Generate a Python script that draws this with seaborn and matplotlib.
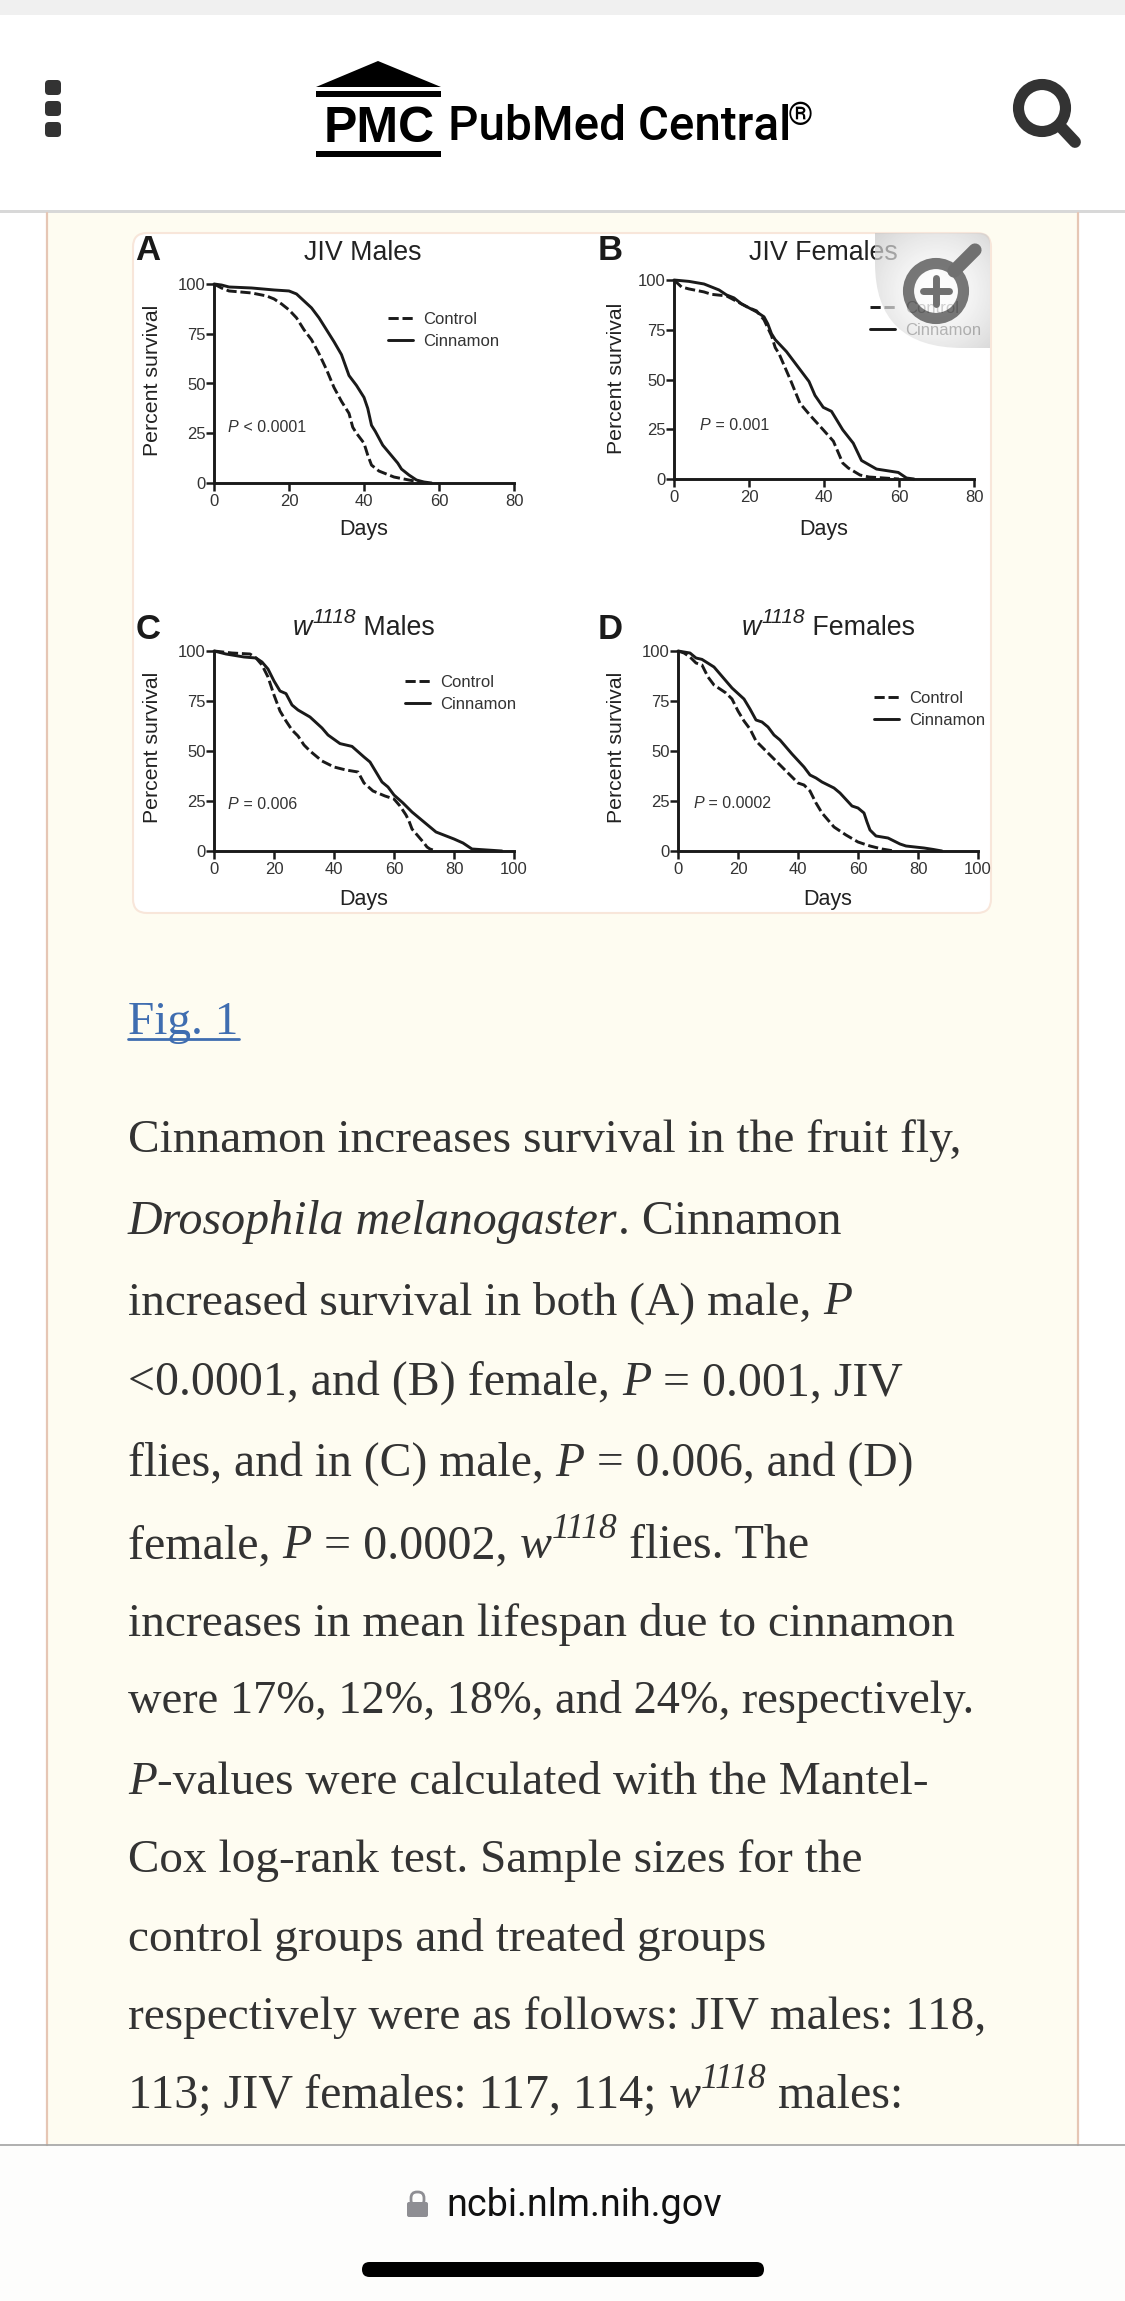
import numpy as np
import pandas as pd
import matplotlib
matplotlib.use("Agg")
import matplotlib.pyplot as plt
import seaborn as sns
from matplotlib.patches import Circle, FancyBboxPatch, PathPatch, Polygon, Rectangle
from matplotlib.path import Path

W, H = 1125, 2301

sns.set_theme(style="ticks")
plt.rcParams["font.family"] = ["Liberation Sans", "DejaVu Sans"]

# valores (dias, % supervivencia)
a_control_days = [0, 2, 4, 10, 14, 16, 18, 20, 22, 24, 26, 28, 30, 32, 34, 36, 37, 38, 40, 41, 42, 44, 46, 48, 52, 54, 56]
a_control_surv = [100, 98, 96.5, 95.5, 94, 92.5, 90, 87, 83, 77, 72, 65, 57, 48, 41, 35, 28, 25, 20, 14, 9, 6, 4.5, 3, 1.5, 0.8, 0]
a_cinnamon_days = [0, 2, 4, 10, 16, 20, 22, 24, 26, 28, 30, 32, 34, 36, 38, 40, 41, 42, 43, 45, 47, 49, 50, 52, 54, 56, 58]
a_cinnamon_surv = [100, 99.5, 98.5, 98, 97, 96.5, 95, 91.5, 88, 83, 77, 71, 64.5, 54, 49, 43, 37.5, 29, 26, 19, 14.5, 10, 7, 4, 1.5, 0.5, 0]

b_control_days = [0, 2, 4, 8, 10, 14, 16, 18, 20, 22, 24, 26, 27, 28, 31, 33.6, 36.3, 39.8, 42.5, 45, 46.5, 49.6, 52, 57.6, 60]
b_control_surv = [100, 96.5, 95.5, 94, 92.8, 92, 90, 88, 86, 84.5, 80, 72, 66, 63, 50, 38, 32, 24.7, 19, 8, 5.5, 2, 1, 0.3, 0]
b_cinnamon_days = [0, 4, 8, 10, 12, 14, 16, 18, 20, 22, 24, 25, 26, 27, 28, 30, 32, 34, 36, 37.6, 39.8, 42, 45, 47.8, 50, 54, 59.8, 62, 64]
b_cinnamon_surv = [100, 99.3, 98, 96.5, 95, 92.5, 91, 88, 86, 84, 81.5, 78, 73, 70, 68, 64, 59, 54, 49, 42, 36, 34, 24.7, 18, 9.3, 5, 3.3, 0.5, 0]

c_control_days = [0, 6, 12, 14, 16, 18, 20, 22, 24, 26, 28, 30, 32, 36, 40, 44, 48, 50, 53, 57, 60, 62, 64, 65, 66, 68, 70, 71, 72, 74]
c_control_surv = [100, 99, 98.5, 96.5, 93, 87, 78, 70, 65, 60.5, 57.5, 53, 50, 45, 42, 40.5, 39.5, 34, 30, 27.5, 26, 22.5, 18, 15, 11, 7.5, 4, 2, 1, 0]
c_cinnamon_days = [0, 4, 10, 14, 16, 18, 20, 22, 24, 26, 28, 32, 36, 38, 42, 46, 50, 52, 56, 58, 60, 63, 66, 68, 74, 80, 83, 86, 96]
c_cinnamon_surv = [100, 98.5, 97, 96.5, 94.5, 91, 85, 80, 78.7, 73, 70.5, 67, 61.5, 58, 53.7, 52.3, 47, 44.5, 34.5, 32, 28, 24, 19.5, 17, 9.5, 6, 4, 1, 0]

d_control_days = [0, 2, 4, 6, 8, 10, 12, 14, 16, 18, 20, 22, 24, 26, 28, 32, 36, 40, 42, 44, 46, 48, 50, 52, 56, 60, 64, 68, 72]
d_control_surv = [100, 99, 97, 94, 93, 87, 83, 81, 79, 76, 70, 65, 61, 55, 52, 46, 40, 34, 33, 30, 24, 19, 15.5, 12, 8, 4.5, 2.5, 1, 0]
d_cinnamon_days = [0, 4, 6, 8, 12, 14, 16, 18, 22, 24, 26, 28, 30, 32, 34, 38, 42, 44, 46, 48, 52, 54, 58, 60, 62, 63, 64, 66, 70, 74, 76, 82, 85, 88]
d_cinnamon_surv = [100, 99, 96.5, 95.8, 92, 88.5, 85, 81.5, 76, 71, 65.5, 64.5, 62, 58, 55.5, 48.5, 42, 38, 36.5, 34.5, 31.5, 29, 22.5, 21.5, 19, 14.5, 10.5, 7.5, 6.5, 3.5, 2.5, 1.5, 0.8, 0]

groups = ["Control", "Cinnamon"]
x_ticks_short = [0, 20, 40, 60, 80]
x_ticks_long = [0, 20, 40, 60, 80, 100]
y_ticks = [0, 25, 50, 75, 100]

paneles = [
    dict(letter="A", letter_x=135, letter_y=260, box=(214, 514, 483, 284), xticks=x_ticks_short,
         control=(a_control_days, a_control_surv), cinnamon=(a_cinnamon_days, a_cinnamon_surv),
         title=[("JIV Males", "r")], title_pos=(304, 260),
         p=[("P", "i"), (" < 0.0001", "r")], p_pos=(228, 432),
         legend_pos=(388, 330.5), xlabel_pos=(364, 529), ylabel_pos=(152, 380)),
    dict(letter="B", letter_x=598, letter_y=260, box=(674, 974, 479, 280), xticks=x_ticks_short,
         control=(b_control_days, b_control_surv), cinnamon=(b_cinnamon_days, b_cinnamon_surv),
         title=[("JIV Females", "r")], title_pos=(749, 260),
         p=[("P", "i"), (" = 0.001", "r")], p_pos=(700, 430),
         legend_pos=(870, 319.5), xlabel_pos=(824, 529), ylabel_pos=(616, 378)),
    dict(letter="C", letter_x=136, letter_y=639, box=(214, 514, 851, 651), xticks=x_ticks_long,
         control=(c_control_days, c_control_surv), cinnamon=(c_cinnamon_days, c_cinnamon_surv),
         title=[("w", "i"), ("1118", "t"), (" Males", "r")], title_pos=(293, 635),
         p=[("P", "i"), (" = 0.006", "r")], p_pos=(228, 809),
         legend_pos=(405, 693.5), xlabel_pos=(364, 900), ylabel_pos=(152, 747)),
    dict(letter="D", letter_x=598, letter_y=639, box=(678, 978, 851, 651), xticks=x_ticks_long,
         control=(d_control_days, d_control_surv), cinnamon=(d_cinnamon_days, d_cinnamon_surv),
         title=[("w", "i"), ("1118", "t"), (" Females", "r")], title_pos=(742, 635),
         p=[("P", "i"), (" = 0.0002", "r")], p_pos=(693, 808),
         legend_pos=(874, 709.5), xlabel_pos=(828, 900), ylabel_pos=(616, 747)),
]

# baseline, tamaño de letra, trozos de texto
parrafo = [
    (1152.5, 34.1, [("Cinnamon increases survival in the fruit fly,", "r")]),
    (1233.5, 34.5, [("Drosophila melanogaster", "i"), (". Cinnamon", "r")]),
    (1314, 34.2, [("increased survival in both (A) male, ", "r"), ("P", "i")]),
    (1395, 34.5, [("<0.0001, and (B) female, ", "r"), ("P", "i"), (" = 0.001, JIV", "r")]),
    (1476, 34.3, [("flies, and in (C) male, ", "r"), ("P", "i"), (" = 0.006, and (D)", "r")]),
    (1558, 34.6, [("female, ", "r"), ("P", "i"), (" = 0.0002, ", "r"), ("w", "i"), ("1118", "t"), (" flies. The", "r")]),
    (1636, 34.1, [("increases in mean lifespan due to cinnamon", "r")]),
    (1713, 33.4, [("were 17%, 12%, 18%, and 24%, respectively.", "r")]),
    (1794, 34.0, [("P", "i"), ("-values were calculated with the Mantel-", "r")]),
    (1872, 34.0, [("Cox log-rank test. Sample sizes for the", "r")]),
    (1951, 34.2, [("control groups and treated groups", "r")]),
    (2029, 34.0, [("respectively were as follows: JIV males: 118,", "r")]),
    (2108, 34.6, [("113; JIV females: 117, 114; ", "r"), ("w", "i"), ("1118", "t"), (" males:", "r")]),
]

fig = plt.figure(figsize=(W / 100, H / 100), dpi=100, facecolor="white")
renderer = fig.canvas.get_renderer()


def capa(zorder):
    ax = fig.add_axes([0, 0, 1, 1], zorder=zorder)
    ax.set_xlim(0, W)
    ax.set_ylim(H, 0)
    ax.axis("off")
    return ax


fondo = capa(1)
frente = capa(5)


def ancho(ax, txt, **kw):
    # la barra evita que se pierdan los espacios al final
    a = ax.text(0, 0, txt + "|", **kw)
    b = ax.text(0, 0, "|", **kw)
    w = a.get_window_extent(renderer).width - b.get_window_extent(renderer).width
    a.remove()
    b.remove()
    return w


def draw_runs(ax, x, y, runs, family, size, color, sup_size, rise):
    for txt, kind in runs:
        kw = dict(family=family, color=color, fontsize=size)
        base = y
        if kind == "i":
            kw["style"] = "italic"
        if kind == "t":
            kw["style"] = "italic"
            kw["fontsize"] = sup_size
            base = y - rise
        ax.text(x, base, txt, va="baseline", ha="left", **kw)
        x += ancho(ax, txt, **kw)


# ---- pagina
fondo.add_patch(Rectangle((0, 0), W, 15, fc="#F0F0F0", ec="none"))
fondo.add_patch(Rectangle((47, 213), 1031, 1932, fc="#FEFCF1", ec="none"))
fondo.add_patch(Rectangle((0, 210), W, 3, fc="#D8D8D8", ec="none"))
fondo.plot([47, 47], [213, 2145], color="#E6C6B4", lw=1.6)
fondo.plot([1078, 1078], [213, 2145], color="#E6C6B4", lw=1.6)
fondo.add_patch(Rectangle((0, 2145), W, H - 2145, fc="#FDFDFC", ec="none"))
fondo.plot([0, W], [2145, 2145], color="#A2A2A2", lw=1.2)
fondo.add_patch(FancyBboxPatch((139, 239), 846, 668, boxstyle="round,pad=6,rounding_size=14",
                               fc="white", ec="#F8E6DA", lw=1.5))

# cabecera
fondo.add_patch(Polygon([(316, 87), (378, 61), (441, 87)], fc="black", ec="none"))
fondo.add_patch(Rectangle((316, 91), 125, 6, fc="black", ec="none"))
fondo.add_patch(Rectangle((316, 151), 125, 5.5, fc="black", ec="none"))
fondo.text(379, 142, "PMC", family="Liberation Sans", weight="bold", fontsize=36, ha="center", va="baseline", color="black")
fondo.text(448, 139.5, "PubMed Central", family="Roboto", weight="medium", fontsize=34.3, ha="left", va="baseline", color="black")
fondo.text(788, 125, "®", family="Roboto", fontsize=23, ha="left", va="baseline", color="black")
for y0 in [80, 101, 122]:
    fondo.add_patch(FancyBboxPatch((48, y0 + 3), 10, 9, boxstyle="round,pad=3,rounding_size=4", fc="#333333", ec="none"))
fondo.add_patch(Circle((1042, 108), 23.5, fc="none", ec="#333333", lw=8))
fondo.plot([1060, 1075], [126, 142], color="#333333", lw=8.5, solid_capstyle="round")

# pie
fondo.text(446, 2216, "ncbi.nlm.nih.gov", family="Roboto", fontsize=27.2, ha="left", va="baseline", color="#111111")
fondo.add_patch(FancyBboxPatch((409, 2204), 17, 11, boxstyle="round,pad=2,rounding_size=2", fc="#8E8E93", ec="none"))
fondo.add_patch(FancyBboxPatch((411, 2192), 13, 14, boxstyle="round,pad=0,rounding_size=6", fc="none", ec="#8E8E93", lw=2))
fondo.add_patch(FancyBboxPatch((362, 2262), 402, 15, boxstyle="round,pad=0,rounding_size=7.5", fc="black", ec="none"))

# ---- texto del articulo
TEXTO = "#333333"
fondo.text(128, 1034, "Fig. 1", family="Liberation Serif", fontsize=34, color="#3F6DB0", va="baseline")
fondo.plot([128, 239], [1039, 1039], color="#3F6DB0", lw=2)
for y, size, runs in parrafo:
    draw_runs(fondo, 128, y, runs, "Liberation Serif", size, TEXTO, 25.5, 20)

# ---- paneles
for pan in paneles:
    x0, x1, y0, y1 = pan["box"]
    ax = fig.add_axes([x0 / W, 1 - y0 / H, (x1 - x0) / W, (y0 - y1) / H], zorder=3)
    ax.patch.set_alpha(0)
    df = pd.concat([
        pd.DataFrame({"dias": pan["control"][0], "surv": pan["control"][1], "grupo": groups[0]}),
        pd.DataFrame({"dias": pan["cinnamon"][0], "surv": pan["cinnamon"][1], "grupo": groups[1]}),
    ])
    sns.lineplot(data=df, x="dias", y="surv", hue="grupo", style="grupo", hue_order=groups, style_order=groups,
                 palette={"Control": "#1A1A1A", "Cinnamon": "#1A1A1A"}, dashes={"Control": (3.5, 1.3), "Cinnamon": ""},
                 lw=2.1, estimator=None, sort=False, legend=False, ax=ax, clip_on=False)
    ax.set_xlim(pan["xticks"][0], pan["xticks"][-1])
    ax.set_ylim(0, 100)
    ax.set_xticks(pan["xticks"])
    ax.set_yticks(y_ticks)
    ax.tick_params(length=5.5, width=1.8, labelsize=12, color="#1A1A1A", labelcolor="#333333")
    ax.tick_params(axis="y", pad=0.4)
    ax.tick_params(axis="x", pad=2.4)
    sns.despine(ax=ax)
    for lado in ["left", "bottom"]:
        ax.spines[lado].set_linewidth(2.1)
        ax.spines[lado].set_color("#1A1A1A")
    ax.set_xlabel("Days", fontsize=15.5, color="#222222", va="center")
    ax.set_ylabel("Percent survival", fontsize=15.3, color="#222222", va="center", ha="center")
    ax.xaxis.set_label_coords(*pan["xlabel_pos"], transform=fondo.transData)
    ax.yaxis.set_label_coords(*pan["ylabel_pos"], transform=fondo.transData)
    ax.legend(ax.get_lines()[:2], groups, loc="center left", bbox_to_anchor=pan["legend_pos"],
              bbox_transform=fondo.transData, frameon=False, fontsize=12, borderpad=0, borderaxespad=0,
              handlelength=1.5, handletextpad=0.6, labelspacing=0.42, labelcolor="#333333")
    fondo.text(pan["letter_x"], pan["letter_y"], pan["letter"], family="Liberation Sans", weight="bold",
               fontsize=25, color="#1A1A1A", va="baseline")
    draw_runs(fondo, pan["title_pos"][0], pan["title_pos"][1], pan["title"], "Liberation Sans", 19.3, "#222222", 15, 12)
    draw_runs(fondo, pan["p_pos"][0], pan["p_pos"][1], pan["p"], "Liberation Sans", 11.5, "#333333", 9, 5)

# ---- lupa encima del panel B
mx0, mx1, my0, my1 = 875, 990, 233, 348
forma = Path([(mx0, my0), (mx1 - 10, my0), (mx1, my0), (mx1, my0 + 10), (mx1, my1), (mx0 + 88, my1), (mx0, my1),
              (mx0, my1 - 85), (mx0, my0)],
             [Path.MOVETO, Path.LINETO, Path.CURVE3, Path.CURVE3, Path.LINETO, Path.LINETO, Path.CURVE3, Path.CURVE3,
              Path.CLOSEPOLY])
xx, yy = np.meshgrid(np.arange(mx0, mx1), np.arange(my0, my1))
r = np.clip(np.hypot(xx - 936, yy - 291) / 85, 0, 1)
gris = (255 - 60 * r ** 1.5) / 255
img = np.dstack([gris, gris, gris, np.full_like(gris, 0.7)])
im = frente.imshow(img, extent=(mx0, mx1, my1, my0), aspect="auto", interpolation="bilinear")
clip = PathPatch(forma, fc="none", ec="none", transform=frente.transData)
frente.add_patch(clip)
im.set_clip_path(clip)
frente.set_xlim(0, W)
frente.set_ylim(H, 0)
# aro semitransparente, deja ver "Control" por debajo
gris_lupa = (0.13, 0.13, 0.13, 0.6)
frente.plot([954, 975], [271, 250], color="#707070", lw=9.5, solid_capstyle="round")
frente.add_patch(Circle((936, 291), 22.5, fc=(1, 1, 1, 0.25), ec="none"))
frente.add_patch(Circle((936, 291), 27.5, fc="none", ec=gris_lupa, lw=8))
frente.plot([923, 949], [291, 291], color="#707070", lw=5, solid_capstyle="round")
frente.plot([936, 936], [278, 304], color="#707070", lw=5, solid_capstyle="round")

fig.savefig("out.png", dpi=100, facecolor="white")
